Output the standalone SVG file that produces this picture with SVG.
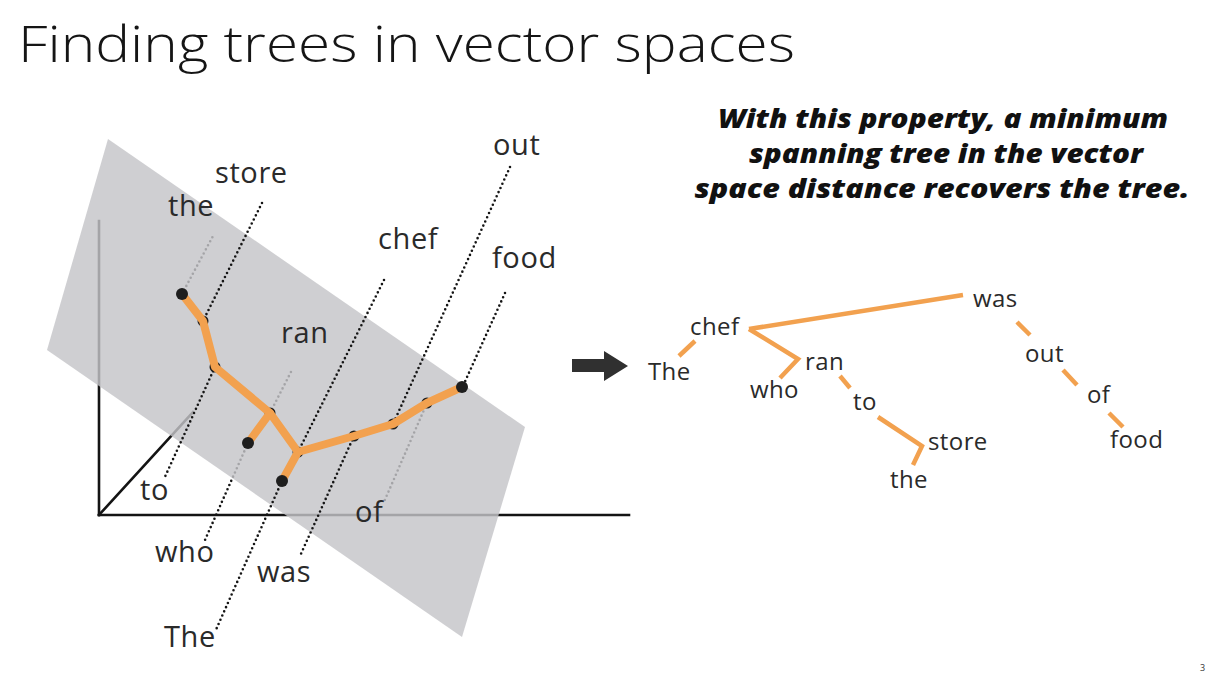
<svg xmlns="http://www.w3.org/2000/svg" width="1208" height="673" viewBox="0 0 1208 673">
<style>
.title{font-family:"Open Sans","Liberation Sans",sans-serif;font-weight:300;font-size:50px;fill:#151515}
.head{font-family:"Open Sans","Liberation Sans",sans-serif;font-weight:800;font-style:italic;font-size:26px;fill:#111}
.lw{font-family:"Open Sans","Liberation Sans",sans-serif;font-size:29px;fill:#2a2a2a;letter-spacing:0.6px}
.rw{font-family:"Open Sans","Liberation Sans",sans-serif;font-size:24px;fill:#2a2a2a;letter-spacing:0.4px}
.axis{stroke:#141414;stroke-width:2.6;fill:none;stroke-linecap:square}
.dot{stroke:#151515;stroke-width:2.6;stroke-dasharray:0 4.6;stroke-linecap:round;fill:none}
.tree{stroke:#f2a14f;stroke-width:8;fill:none;stroke-linecap:round;stroke-linejoin:round}
.rt{stroke:#f2a14f;stroke-width:4.5;fill:none;stroke-linejoin:miter}
.pt{fill:#1e1e1e}
</style>
<rect width="1208" height="673" fill="#ffffff"/>
<text class="title" x="18" y="62" textLength="777" lengthAdjust="spacingAndGlyphs">Finding trees in vector spaces</text>
<g id="heading">
<text class="head" x="943" y="128" text-anchor="middle" textLength="450" lengthAdjust="spacingAndGlyphs">With this property, a minimum</text>
<text class="head" x="946" y="163" text-anchor="middle" textLength="394" lengthAdjust="spacingAndGlyphs">spanning tree in the vector</text>
<text class="head" x="942" y="198" text-anchor="middle" textLength="495" lengthAdjust="spacingAndGlyphs">space distance recovers the tree.</text>
</g>
<g id="axes">
<line class="axis" x1="99" y1="221" x2="99" y2="515"/>
<line class="axis" x1="99" y1="515" x2="629" y2="515"/>
<line class="axis" x1="99" y1="515" x2="193" y2="412"/>
</g>
<g id="projections-behind">
<line class="dot" x1="182" y1="294" x2="213" y2="236"/>
<line class="dot" x1="270" y1="413" x2="293" y2="368"/>
<line class="dot" x1="248" y1="443" x2="205" y2="540"/>
<line class="dot" x1="427" y1="403" x2="384" y2="502"/>
</g>
<polygon id="plane" points="108,139 525,427 462,637 47,350" fill="#c4c4c8" fill-opacity="0.82"/>
<g id="projections-front">
<line class="dot" x1="262" y1="203" x2="203" y2="321"/>
<line class="dot" x1="215" y1="367" x2="164" y2="479"/>
<line class="dot" x1="384" y1="280" x2="298" y2="452"/>
<line class="dot" x1="282" y1="481" x2="215" y2="632"/>
<line class="dot" x1="354" y1="436" x2="300" y2="556"/>
<line class="dot" x1="510" y1="167" x2="393" y2="424"/>
<line class="dot" x1="505" y1="293" x2="463" y2="386"/>
</g>
<g id="vector-points-under">
<circle class="pt" cx="203" cy="321" r="5.5"/>
<circle class="pt" cx="215" cy="367" r="5.5"/>
<circle class="pt" cx="270" cy="413" r="5.5"/>
<circle class="pt" cx="298" cy="452" r="5.5"/>
<circle class="pt" cx="354" cy="436" r="5.5"/>
<circle class="pt" cx="393" cy="424" r="5.5"/>
<circle class="pt" cx="427" cy="403" r="5.5"/>
</g>
<g id="vector-tree">
<polyline class="tree" points="182,294 203,321 215,367 270,413 298,452 354,436 393,424 427,403 462,387"/>
<line class="tree" x1="270" y1="413" x2="248" y2="443"/>
<line class="tree" x1="298" y1="452" x2="282" y2="481" stroke-width="2.2"/>
</g>
<g id="vector-points-leaves">
<circle class="pt" cx="182" cy="294" r="6"/>
<circle class="pt" cx="248" cy="443" r="6"/>
<circle class="pt" cx="282" cy="481" r="6"/>
<circle class="pt" cx="462" cy="387" r="6"/>
</g>
<g id="v-store"><text class="lw" x="215" y="183">store</text></g>
<g id="v-the"><text class="lw" x="168" y="216">the</text></g>
<g id="v-ran"><text class="lw" x="281" y="343">ran</text></g>
<g id="v-chef"><text class="lw" x="378" y="249">chef</text></g>
<g id="v-out"><text class="lw" x="493" y="155">out</text></g>
<g id="v-food"><text class="lw" x="492" y="268">food</text></g>
<g id="v-to"><text class="lw" x="140" y="500">to</text></g>
<g id="v-of"><text class="lw" x="355" y="522">of</text></g>
<g id="v-who"><text class="lw" x="155" y="562">who</text></g>
<g id="v-was"><text class="lw" x="257" y="582">was</text></g>
<g id="v-The"><text class="lw" x="164" y="647">The</text></g>
<polygon id="arrow" points="572,359 604,359 604,351 628,366 604,381 604,372 572,372" fill="#303030"/>
<g id="connectors">
<line class="rt" x1="679" y1="356" x2="695" y2="341"/>
<line class="rt" x1="749" y1="329" x2="963" y2="295"/>
<polyline class="rt" points="749,329 798,359 780,378"/>
<line class="rt" x1="840" y1="376" x2="850" y2="388"/>
<polyline class="rt" points="878,417 922,446 913,465"/>
<line class="rt" x1="1017" y1="322" x2="1030" y2="335"/>
<line class="rt" x1="1063" y1="370" x2="1077" y2="385"/>
<line class="rt" x1="1109" y1="413" x2="1123" y2="427"/>
</g>
<g id="n-The"><text class="rw" x="648" y="380">The</text></g>
<g id="n-chef"><text class="rw" x="690" y="335">chef</text></g>
<g id="n-ran"><text class="rw" x="805" y="370">ran</text></g>
<g id="n-who"><text class="rw" x="750" y="398">who</text></g>
<g id="n-to"><text class="rw" x="853" y="410">to</text></g>
<g id="n-store"><text class="rw" x="928" y="450">store</text></g>
<g id="n-the"><text class="rw" x="890" y="488">the</text></g>
<g id="n-was"><text class="rw" x="973" y="307">was</text></g>
<g id="n-out"><text class="rw" x="1025" y="362">out</text></g>
<g id="n-of"><text class="rw" x="1087" y="403">of</text></g>
<g id="n-food"><text class="rw" x="1110" y="448">food</text></g>
<text x="1200" y="671" font-family="Open Sans, Liberation Sans, sans-serif" font-size="9" fill="#333">3</text>
</svg>
